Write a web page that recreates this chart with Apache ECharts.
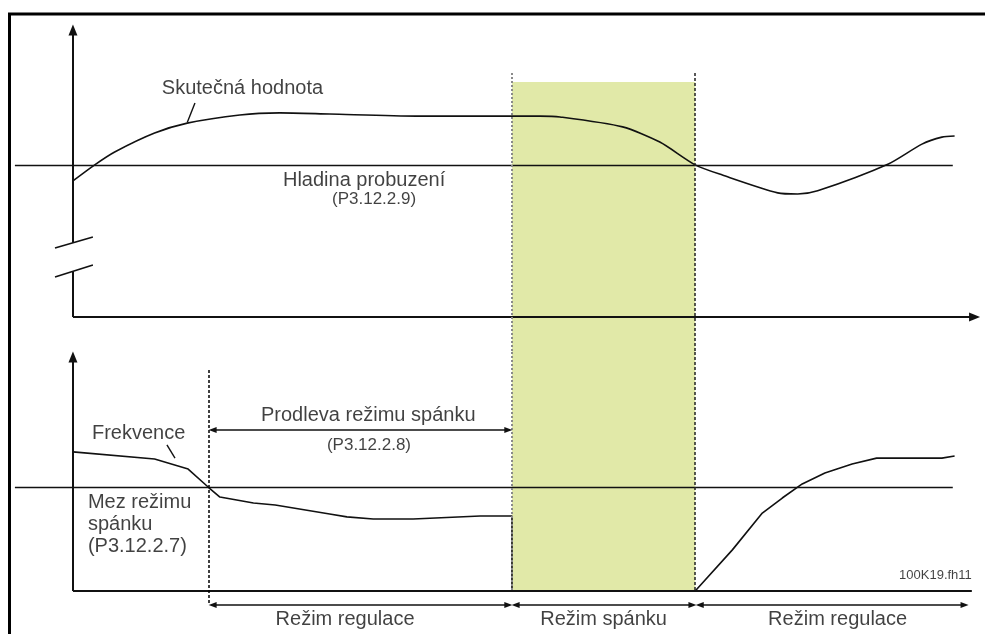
<!DOCTYPE html>
<html>
<head>
<meta charset="utf-8">
<script src="https://cdn.jsdelivr.net/npm/echarts@6/dist/echarts.min.js"></script>
<style>
  html, body { margin: 0; background: #fff; }
  #chart { width: 985px; height: 634px; }
</style>
</head>
<body>
<div id="chart"></div>
<script>
// cas: 0 = svisla osa, 100 = konec sipky vodorovne osy
const actualT = [0, 2.4, 4.6, 9.0, 12.6, 18.4, 22.8, 28.3, 37.9, 51.5, 53.7, 60.6, 64.7, 68.6, 71.6, 77.7, 79.9, 82.1, 89.9, 93.6, 95.8, 97.2]
const actualV = [46.6, 52.1, 56.5, 63.0, 66.4, 69.2, 69.9, 69.5, 68.8, 68.8, 68.5, 65.1, 59.9, 52.1, 48.6, 42.5, 42.1, 43.2, 52.4, 59.2, 61.6, 62.0]
const freqT = [0, 9.0, 12.7, 14.9, 16.2, 19.9, 22.3, 28.3, 30.2, 33.1, 37.5, 44.9, 48.4, 48.4, 68.6, 72.7, 76.0, 78.2, 80.4, 82.9, 85.9, 88.6, 95.8, 97.2]
const freqV = [58.2, 55.2, 51.0, 43.5, 39.3, 36.8, 36.0, 32.2, 31.0, 30.1, 30.1, 31.4, 31.4, 0, 0, 17.2, 32.6, 38.9, 44.8, 49.4, 53.1, 55.6, 55.6, 56.5]
const wakeLevel = 52.1    // Hladina probuzeni
const sleepLevel = 43.5   // Mez rezimu spanku
const delayStart = 15.0
const sleepStart = 48.4
const sleepEnd = 68.6
const modeNames = ['Režim regulace', 'Režim spánku', 'Režim regulace']
const modeFrom = [15.4, 48.8, 69.1]
const modeTo = [48.0, 68.3, 98.3]

const FONT = '"Liberation Sans", Arial, sans-serif'
const BLACK = '#111'

const zip = (a, b) => a.map((v, i) => [v, b[i]])

// usek car (markLine) se sipkami na koncich
function seg (a, b, style, arrows) {
  arrows = arrows || []
  const end = (c, k) => {
    const o = { coord: c }
    if (arrows[k]) {
      o.symbol = 'triangle'
      o.symbolSize = arrows[k]
    } else {
      o.symbol = 'none'
    }
    return o
  }
  const s = end(a, 0)
  s.lineStyle = Object.assign({ color: BLACK, width: 1.5, type: 'solid' }, style)
  return [s, end(b, 1)]
}

function txt (pos, text, opt) {
  return {
    value: pos,
    label: Object.assign({
      show: true,
      formatter: text,
      position: 'right',
      distance: 0,
      color: BLACK,
      fontSize: 20,
      fontFamily: FONT
    }, opt)
  }
}

const labelSeries = (idx, data) => ({
  type: 'scatter',
  xAxisIndex: idx,
  yAxisIndex: idx,
  symbolSize: 0,
  itemStyle: { color: 'transparent' },
  silent: true,
  z: 10,
  data
})

const smallArrow = [6, 8]
const axisArrow = [9, 11]
const dotted = { color: '#8a8a8a', width: 2, type: [2, 2] }
const dashed = { color: '#222', width: 1.5, type: [3, 2] }

const chart = echarts.init(document.getElementById('chart'))
chart.setOption({
  animation: false,
  graphic: [{
    type: 'rect',
    shape: { x: 9.5, y: 14, width: 990, height: 640 },
    style: { fill: 'none', stroke: '#000', lineWidth: 3 },
    silent: true
  }],
  grid: [
    { left: 14, right: 5, top: 25, height: 327 },
    { left: 14, right: 5, top: 352, height: 282 }
  ],
  xAxis: [0, 1].map(i => ({
    type: 'value', gridIndex: i, min: -6.5, max: 100, show: false
  })),
  yAxis: [
    { type: 'value', gridIndex: 0, min: -12, max: 100, show: false },
    { type: 'value', gridIndex: 1, min: -18, max: 100, show: false }
  ],
  series: [
    // horni graf - oblast spanku
    {
      type: 'line',
      xAxisIndex: 0,
      yAxisIndex: 0,
      data: [],
      silent: true,
      z: 1,
      markArea: {
        silent: true,
        itemStyle: { color: '#e1e9a8' },
        data: [[{ coord: [sleepStart, 80.5] }, { coord: [sleepEnd, -12] }]]
      }
    },
    {
      name: 'Skutečná hodnota',
      type: 'line',
      xAxisIndex: 0,
      yAxisIndex: 0,
      data: zip(actualT, actualV),
      smooth: 0.25,
      symbol: 'none',
      color: BLACK,
      lineStyle: { color: BLACK, width: 1.6 },
      silent: true,
      z: 3,
      markLine: {
        silent: true,
        symbol: 'none',
        label: { show: false },
        data: [
          seg([-6.4, wakeLevel], [97.0, wakeLevel], { width: 1.4 }),
          seg([0, 0], [99.4, 0], { width: 2 }, [null, axisArrow]),
          seg([0, 0], [0, 15.6], { width: 2 }),
          seg([0, 25.4], [0, 98.3], { width: 2 }, [null, axisArrow]),
          seg([-1.98, 23.6], [2.2, 27.4], { width: 1.6 }),
          seg([-1.98, 13.7], [2.2, 17.8], { width: 1.6 }),
          seg([13.45, 73.3], [12.6, 66.6], { width: 1.4 }),
          seg([sleepStart, 83.6], [sleepStart, -12], dotted),
          seg([sleepEnd, 83.6], [sleepEnd, -12], dashed)
        ]
      }
    },
    labelSeries(0, [
      txt([9.8, 78.4], 'Skutečná hodnota'),
      txt([23.15, 46.9], 'Hladina probuzení'),
      txt([28.56, 40.4], '(P3.12.2.9)', { fontSize: 17 })
    ]),
    // dolni graf
    {
      type: 'line',
      xAxisIndex: 1,
      yAxisIndex: 1,
      data: [],
      silent: true,
      z: 1,
      markArea: {
        silent: true,
        itemStyle: { color: '#e1e9a8' },
        data: [[{ coord: [sleepStart, 100] }, { coord: [sleepEnd, 0] }]]
      }
    },
    {
      name: 'Frekvence',
      type: 'line',
      xAxisIndex: 1,
      yAxisIndex: 1,
      data: zip(freqT, freqV),
      symbol: 'none',
      color: BLACK,
      lineStyle: { color: BLACK, width: 1.6 },
      silent: true,
      z: 3,
      markLine: {
        silent: true,
        symbol: 'none',
        label: { show: false },
        data: [
          seg([-6.4, sleepLevel], [97.0, sleepLevel], { width: 1.4 }),
          seg([0, 0], [99.1, 0], { width: 2 }),
          seg([0, 0], [0, 97.9], { width: 2 }, [null, axisArrow]),
          seg([10.36, 61.1], [11.25, 55.6], { width: 1.4 }),
          seg([sleepStart, 100], [sleepStart, 0], dotted),
          seg([sleepEnd, 100], [sleepEnd, 0], dashed),
          seg([delayStart, 92.5], [delayStart, -5.9], Object.assign({}, dashed, { color: '#000' })),
          seg([delayStart + 0.4, 67.4], [sleepStart - 0.4, 67.4], { width: 1.6 }, [smallArrow, smallArrow])
        ].concat(modeNames.map((n, i) =>
          seg([modeFrom[i], -5.9], [modeTo[i], -5.9], { width: 1.6 }, [smallArrow, smallArrow])
        ))
      }
    },
    labelSeries(1, [
      txt([2.09, 66.1], 'Frekvence'),
      txt([20.73, 73.6], 'Prodleva režimu spánku'),
      txt([28.0, 61.1], '(P3.12.2.8)', { fontSize: 17 }),
      txt([1.65, 27.7], 'Mez režimu\nspánku\n(P3.12.2.7)', { lineHeight: 22 }),
      txt([99.1, 6.7], '100K19.fh11', { position: 'left', fontSize: 13 }),
      txt([30.0, -12.1], modeNames[0], { position: 'inside' }),
      txt([58.5, -12.1], modeNames[1], { position: 'inside' }),
      txt([84.3, -12.1], modeNames[2], { position: 'inside' })
    ])
  ]
})
</script>
</body>
</html>
